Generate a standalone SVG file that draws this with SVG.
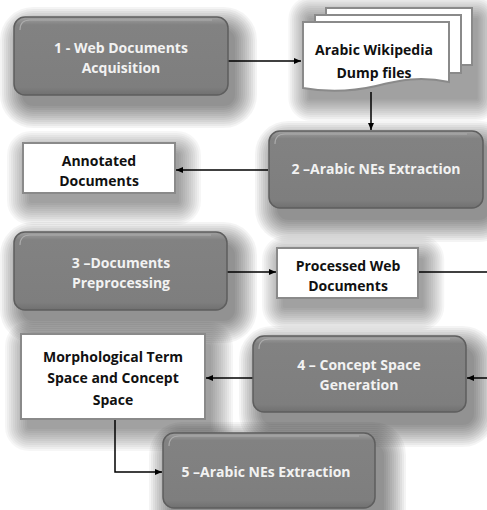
<svg xmlns="http://www.w3.org/2000/svg" width="487" height="510" viewBox="0 0 487 510">
<defs>
<linearGradient id="g" x1="0" y1="0" x2="0" y2="1">
<stop offset="0" stop-color="#a0a0a0"/>
<stop offset="0.1" stop-color="#828282"/>
<stop offset="0.9" stop-color="#7e7e7e"/>
<stop offset="1" stop-color="#707070"/>
</linearGradient>
<g id="gs" class="sa">
<rect x="8" y="12" width="213" height="77" rx="11"/>
<rect x="6" y="10" width="217" height="81" rx="13"/>
<rect x="4" y="8" width="221" height="85" rx="15"/>
<rect x="2" y="6" width="225" height="89" rx="17"/>
<rect x="0" y="4" width="229" height="93" rx="19"/>
<rect x="-2" y="2" width="233" height="97" rx="21"/>
<rect x="-4" y="0" width="237" height="101" rx="23"/>
<rect x="-6" y="-2" width="241" height="105" rx="25"/>
<rect x="-8" y="-4" width="245" height="109" rx="27"/>
<rect x="-10" y="-6" width="249" height="113" rx="29"/>
<rect x="-12" y="-8" width="253" height="117" rx="31"/>
<rect x="-14" y="-10" width="257" height="121" rx="33"/>
</g>
<g id="ws" class="sb">
<rect x="6" y="10" width="150" height="50" rx="2"/>
<rect x="4" y="8" width="154" height="54" rx="4"/>
<rect x="2" y="6" width="158" height="58" rx="6"/>
<rect x="0" y="4" width="162" height="62" rx="8"/>
<rect x="-2" y="2" width="166" height="66" rx="10"/>
<rect x="-4" y="0" width="170" height="70" rx="12"/>
<rect x="-6" y="-2" width="174" height="74" rx="14"/>
<rect x="-8" y="-4" width="178" height="78" rx="16"/>
<rect x="-10" y="-6" width="182" height="82" rx="18"/>
<rect x="-12" y="-8" width="186" height="86" rx="20"/>
<rect x="-14" y="-10" width="190" height="90" rx="22"/>
<rect x="-16" y="-12" width="194" height="94" rx="24"/>
</g>
<g id="ms" class="sb">
<rect x="6" y="10" width="184" height="85" rx="2"/>
<rect x="4" y="8" width="188" height="89" rx="4"/>
<rect x="2" y="6" width="192" height="93" rx="6"/>
<rect x="0" y="4" width="196" height="97" rx="8"/>
<rect x="-2" y="2" width="200" height="101" rx="10"/>
<rect x="-4" y="0" width="204" height="105" rx="12"/>
<rect x="-6" y="-2" width="208" height="109" rx="14"/>
<rect x="-8" y="-4" width="212" height="113" rx="16"/>
<rect x="-10" y="-6" width="216" height="117" rx="18"/>
<rect x="-12" y="-8" width="220" height="121" rx="20"/>
<rect x="-14" y="-10" width="224" height="125" rx="22"/>
<rect x="-16" y="-12" width="228" height="129" rx="24"/>
</g>
<marker id="ah" markerWidth="8" markerHeight="8" refX="7" refY="4" orient="auto" markerUnits="userSpaceOnUse">
<path d="M0,1 L7,4 L0,7 Z" fill="#000"/>
</marker>
<style>
.sa rect{fill:#000;fill-opacity:0.045}
.sb rect{fill:#000;fill-opacity:0.035}
.box{fill:url(#g);stroke:#5e5e5e;stroke-width:1.5}
.hl{fill:none;stroke:#b4b4b4;stroke-width:1.2;opacity:0.8}
.wt{font-family:"Open Sans","Noto Sans",sans-serif;font-weight:bold;font-size:14px;fill:#f2f2f2;text-anchor:middle}
.doc{fill:#fff;stroke:#8a8a8a;stroke-width:2}
.bt{font-family:"Open Sans","Noto Sans",sans-serif;font-weight:bold;font-size:14px;fill:#111;text-anchor:middle}
.ln{fill:none;stroke:#000;stroke-width:1.5}
</style>
</defs>
<rect width="487" height="510" fill="#fff"/>

<g id="shadows">
<use href="#gs" x="14" y="17"/>
<use href="#ms" transform="translate(303,8) scale(0.92,0.965)"/>
<use href="#gs" x="269" y="131"/>
<use href="#ws" x="23" y="143"/>
<use href="#gs" x="14" y="232"/>
<use href="#ws" transform="translate(277,248) scale(0.94,1)"/>
<use href="#ms" x="21" y="334"/>
<use href="#gs" x="253" y="336"/>
<use href="#gs" x="163" y="432"/>
</g>

<g id="connectors">
<line class="ln" x1="228" y1="61" x2="301" y2="61" marker-end="url(#ah)"/>
<line class="ln" x1="371" y1="92" x2="371" y2="130" marker-end="url(#ah)"/>
<line class="ln" x1="268" y1="170" x2="176" y2="170" marker-end="url(#ah)"/>
<line class="ln" x1="227" y1="272" x2="276" y2="272" marker-end="url(#ah)"/>
<line class="ln" x1="418" y1="272" x2="487" y2="272"/>
<line class="ln" x1="487" y1="378" x2="467" y2="378" marker-end="url(#ah)"/>
<line class="ln" x1="253" y1="378" x2="206" y2="378" marker-end="url(#ah)"/>
<polyline class="ln" points="115,419 115,472 162,472" marker-end="url(#ah)"/>
</g>

<g id="node1">
<rect class="box" x="14" y="17" width="214" height="78" rx="11"/>
<path class="hl" d="M20,30 Q20,20 30,20 L212,20"/>
<text class="wt" x="121" y="53">1 - Web Documents</text>
<text class="wt" x="121" y="73">Acquisition</text>
</g>

<g id="dump">
<rect class="doc" x="326" y="8" width="146" height="57"/>
<rect class="doc" x="315" y="15" width="146" height="58"/>
<path class="doc" d="M303,22 L449,22 L449,82 C420,76 400,80 376,86 C350,92 325,92 303,88 Z"/>
<text class="bt" x="374" y="55">Arabic Wikipedia</text>
<text class="bt" x="374" y="78">Dump files</text>
</g>

<g id="node2">
<rect class="box" x="269" y="131" width="214" height="77" rx="11"/>
<path class="hl" d="M275,144 Q275,134 285,134 L467,134"/>
<text class="wt" x="376" y="174">2 –Arabic NEs Extraction</text>
</g>

<g id="annotated">
<rect class="doc" x="23" y="143" width="152" height="50"/>
<text class="bt" x="99" y="166">Annotated</text>
<text class="bt" x="99" y="186">Documents</text>
</g>

<g id="node3">
<rect class="box" x="14" y="232" width="213" height="78" rx="11"/>
<path class="hl" d="M20,245 Q20,235 30,235 L211,235"/>
<text class="wt" x="121" y="268">3 –Documents</text>
<text class="wt" x="121" y="288">Preprocessing</text>
</g>

<g id="processed">
<rect class="doc" x="277" y="248" width="141" height="50"/>
<text class="bt" x="348" y="271">Processed Web</text>
<text class="bt" x="348" y="291">Documents</text>
</g>

<g id="morph">
<rect class="doc" x="21" y="334" width="184" height="85"/>
<text class="bt" x="113" y="362">Morphological Term</text>
<text class="bt" x="113" y="383">Space and Concept</text>
<text class="bt" x="113" y="405">Space</text>
</g>

<g id="node4">
<rect class="box" x="253" y="336" width="213" height="76" rx="11"/>
<path class="hl" d="M259,349 Q259,339 269,339 L450,339"/>
<text class="wt" x="359" y="370">4 – Concept Space</text>
<text class="wt" x="359" y="390">Generation</text>
</g>

<g id="node5">
<rect class="box" x="163" y="433" width="212" height="75" rx="11"/>
<path class="hl" d="M169,446 Q169,436 179,436 L359,436"/>
<text class="wt" x="266" y="477">5 –Arabic NEs Extraction</text>
</g>
</svg>
